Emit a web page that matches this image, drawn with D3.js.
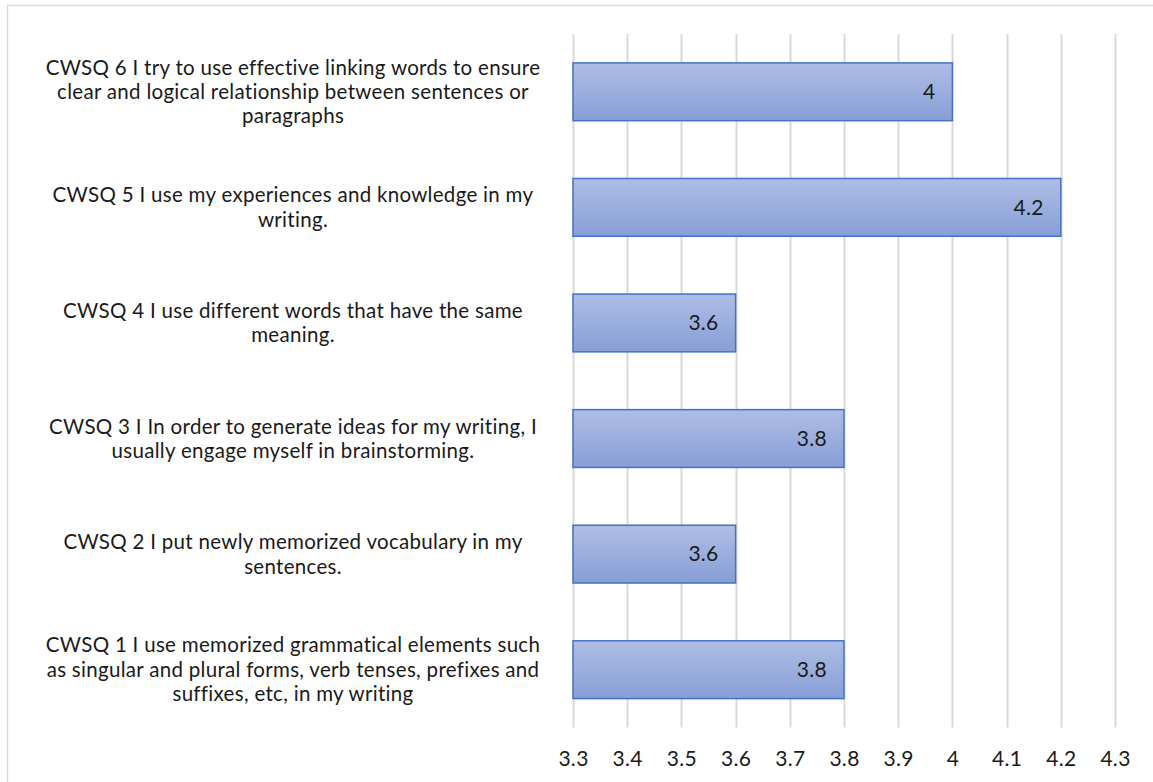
<!DOCTYPE html>
<html>
<head>
<meta charset="utf-8">
<script src="https://cdn.jsdelivr.net/npm/d3@7"></script>
<style>
  html, body { margin: 0; padding: 0; background: #fff; }
  svg { display: block; }
  text { font-family: Lato, "Open Sans", sans-serif; letter-spacing: 0.3px; }
</style>
</head>
<body>
<svg id="chart" width="1153" height="782"></svg>
<script>
// ---- data ----
const categories = ["CWSQ 6", "CWSQ 5", "CWSQ 4", "CWSQ 3", "CWSQ 2", "CWSQ 1"];
const labelLines = [
  ["CWSQ 6 I try to use effective linking words to ensure", "clear and logical relationship between sentences or", "paragraphs"],
  ["CWSQ 5 I use my experiences and knowledge in my", "writing."],
  ["CWSQ 4 I use different words that have the same", "meaning."],
  ["CWSQ 3 I In order to generate ideas for my writing, I", "usually engage myself in brainstorming."],
  ["CWSQ 2 I put newly memorized vocabulary in my", "sentences."],
  ["CWSQ 1 I use memorized grammatical elements such", "as singular and plural forms, verb tenses, prefixes and", "suffixes, etc, in my writing"]
];
const values = [4, 4.2, 3.6, 3.8, 3.6, 3.8];
const tickValues = [3.3, 3.4, 3.5, 3.6, 3.7, 3.8, 3.9, 4, 4.1, 4.2, 4.3];
const tickLabels = ["3.3", "3.4", "3.5", "3.6", "3.7", "3.8", "3.9", "4", "4.1", "4.2", "4.3"];

// ---- layout ----
const svg = d3.select("#chart");
const plot = { left: 573, right: 1115, top: 34, bottom: 727.5 };
const FS = 21;
const LFS = 20.5;

// chart border (light gray)
svg.append("path")
  .attr("d", "M7.5,782 L7.5,5.5 L1153,5.5")
  .attr("fill", "none").attr("stroke", "#d9d9d9").attr("stroke-width", 1.5);

const x = d3.scaleLinear().domain([3.3, 4.3]).range([plot.left, plot.right]);
const y = d3.scaleBand().domain(categories).range([plot.top, plot.bottom]).paddingInner(0.5).paddingOuter(0.25);

// gradient
const defs = svg.append("defs");
const grad = defs.append("linearGradient").attr("id", "barGrad")
  .attr("x1", 0).attr("y1", 0).attr("x2", 0).attr("y2", 1);
grad.append("stop").attr("offset", "0%").attr("stop-color", "#aebde5");
grad.append("stop").attr("offset", "100%").attr("stop-color", "#879fd7");

// gridlines
svg.append("g").selectAll("line").data(tickValues).join("line")
  .attr("x1", d => Math.round(x(d)) + 0.5).attr("x2", d => Math.round(x(d)) + 0.5)
  .attr("y1", plot.top).attr("y2", plot.bottom)
  .attr("stroke", "#d9d9d9").attr("stroke-width", 2);

// x axis tick labels
const xAxis = d3.axisBottom(x).tickValues(tickValues)
  .tickFormat((d, i) => tickLabels[i]).tickSize(0).tickPadding(0);
const gx = svg.append("g").attr("transform", `translate(0,${plot.bottom})`).call(xAxis);
gx.select(".domain").remove();
gx.selectAll("text").attr("font-size", FS).attr("font-family", "Lato, sans-serif").attr("fill", "#1a1a1a")
  .attr("dy", null).attr("y", 38.5);

// bars
svg.append("g").selectAll("rect").data(values).join("rect")
  .attr("x", x(3.3))
  .attr("y", (d, i) => y(categories[i]))
  .attr("width", d => x(d) - x(3.3))
  .attr("height", y.bandwidth())
  .attr("fill", "url(#barGrad)")
  .attr("stroke", "#4472c4").attr("stroke-width", 1.5);

// value labels
svg.append("g").selectAll("text").data(values).join("text")
  .attr("x", d => x(d) - 17)
  .attr("y", (d, i) => y(categories[i]) + y.bandwidth() / 2)
  .attr("dy", "0.35em")
  .attr("text-anchor", "end")
  .attr("font-size", FS)
  .attr("fill", "#1a1a1a")
  .text(d => String(d));

// category labels (wrapped, centered)
const labelCenter = 293;
const lineH = 24.4;
const gl = svg.append("g");
labelLines.forEach((lines, i) => {
  const cy = y(categories[i]) + y.bandwidth() / 2;
  const t = gl.append("text")
    .attr("text-anchor", "middle")
    .attr("font-size", LFS)
    .attr("letter-spacing", "1.2px")
    .attr("fill", "#1a1a1a");
  lines.forEach((ln, j) => {
    t.append("tspan")
      .attr("x", labelCenter)
      .attr("y", cy + (j - (lines.length - 1) / 2) * lineH)
      .attr("dy", "0.35em")
      .text(ln);
  });
});
</script>
</body>
</html>
